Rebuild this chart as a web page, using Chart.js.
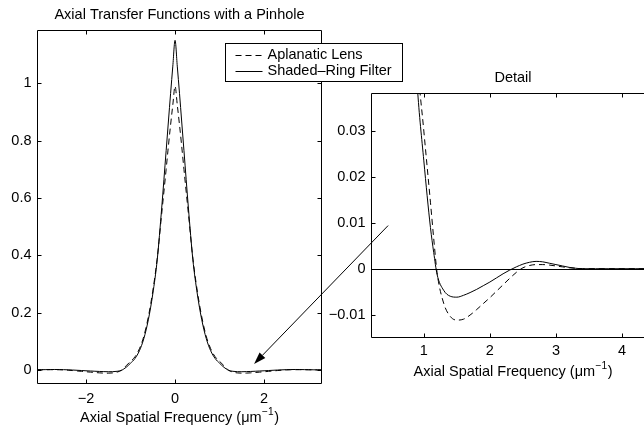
<!DOCTYPE html>
<html><head><meta charset="utf-8">
<script src="https://cdn.jsdelivr.net/npm/chart.js@4.4.0/dist/chart.umd.min.js"></script>
<style>
html,body{margin:0;padding:0;background:#fff;overflow:hidden;width:644px;height:427px;}
#wrap{position:relative;width:644px;height:427px;overflow:hidden;}
canvas{position:absolute;left:0;top:0;}
</style></head><body>
<div id="wrap"><canvas id="main" width="644" height="427"></canvas><canvas id="detail" width="700" height="427"></canvas></div>
<script>
// ---- data ----
const freq = [
 -3.1,-3.0,-2.9,-2.8,-2.7,-2.6,-2.5,-2.4,-2.3,-2.2,-2.1,-2.0,-1.9,-1.8,-1.7,-1.6,-1.5,-1.4,-1.3,-1.2,
 -1.15,-1.1,-1.0,-0.9,-0.8,-0.7,-0.6,-0.5,-0.4,-0.3,-0.2,-0.15,-0.1,-0.05,
 0,
 0.05,0.1,0.15,0.2,0.3,0.4,0.5,0.6,0.7,0.8,0.9,1.0,1.1,1.15,
 1.2,1.3,1.4,1.5,1.6,1.7,1.8,1.9,2.0,2.1,2.2,2.3,2.4,2.5,2.6,2.7,2.8,2.9,3.0,3.1,3.2,3.3,3.4,
 3.6,3.8,4.0,4.2,4.5
];
const aplanatic = [
 0.0004,0.0006,0.0008,0.0009,0.0009,0.0007,0.0002,-0.0008,-0.0021,-0.0035,-0.0049,-0.0063,-0.0076,-0.0089,-0.0101,-0.0110,-0.0112,-0.0104,-0.0075,-0.0008,
 0.0065,0.0145,0.0300,0.046,0.074,0.118,0.185,0.275,0.39,0.545,0.70,0.78,0.855,0.925,
 0.99,
 0.925,0.855,0.78,0.70,0.545,0.39,0.275,0.185,0.118,0.074,0.046,0.0300,0.0145,0.0065,
 -0.0008,-0.0075,-0.0104,-0.0112,-0.0110,-0.0101,-0.0089,-0.0076,-0.0063,-0.0049,-0.0035,-0.0021,-0.0008,0.0002,0.0007,0.0009,0.0009,0.0008,0.0006,0.0004,0.0002,0.0001,0,
 0,0,0,0,0
];
const shadedRing = [
 0.0006,0.0009,0.0012,0.0015,0.0016,0.0014,0.0010,0.0004,-0.0003,-0.0011,-0.0020,-0.0029,-0.0037,-0.0045,-0.0052,-0.0058,-0.0062,-0.0060,-0.0047,-0.0012,
 0.0035,0.0090,0.0235,0.040,0.067,0.110,0.175,0.265,0.385,0.565,0.765,0.865,0.965,1.06,
 1.15,
 1.06,0.965,0.865,0.765,0.565,0.385,0.265,0.175,0.110,0.067,0.040,0.0235,0.0090,0.0035,
 -0.0012,-0.0047,-0.0060,-0.0062,-0.0058,-0.0052,-0.0045,-0.0037,-0.0029,-0.0020,-0.0011,-0.0003,0.0004,0.0010,0.0014,0.0016,0.0015,0.0012,0.0009,0.0006,0.0003,0.0001,0,
 0,0,0,0,0
];
const seriesNames = ['Aplanatic Lens', 'Shaded\u2013Ring Filter'];
const mainTitle = 'Axial Transfer Functions with a Pinhole';
const detailTitle = 'Detail';
const axisLabelParts = ['Axial Spatial Frequency (\u03bcm', '\u22121', ')'];
const mainXTicks = [-2, 0, 2];
const mainXTickLabels = ['\u22122', '0', '2'];
const mainYTicks = [0, 0.2, 0.4, 0.6, 0.8, 1];
const mainYTickLabels = ['0', '0.2', '0.4', '0.6', '0.8', '1'];
const detailXTicks = [1, 2, 3, 4];
const detailXTickLabels = ['1', '2', '3', '4'];
const detailYTicks = [-0.01, 0, 0.01, 0.02, 0.03];
const detailYTickLabels = ['\u22120.01', '0', '0.01', '0.02', '0.03'];
const mainRange = {xmin: -3.1, xmax: 3.3, ymin: -0.049, ymax: 1.186};
const detailRange = {xmin: 0.2, xmax: 4.5, ymin: -0.0151, ymax: 0.0383};
const arrowTail = {x: 0.459, y: 0.0094};  // detail axes data units
const arrowHead = {x: 1.775, y: 0.021};   // main axes data units

// ---- helpers ----
const FONT = '"Liberation Sans", Arial, Helvetica, sans-serif';
const FS = 14.5;
function pts(ys){ return freq.map((x,i)=>({x:x, y:ys[i]})); }
function datasets(){
  return [
    {label: seriesNames[0], data: pts(aplanatic), borderColor:'#000', borderWidth:1, borderDash:[6,4], pointRadius:0, fill:false, cubicInterpolationMode:'monotone'},
    {label: seriesNames[1], data: pts(shadedRing), borderColor:'#000', borderWidth:1, pointRadius:0, fill:false, cubicInterpolationMode:'monotone'}
  ];
}
function scaleCfg(range, ticks, labels, axis, fitSize, pad){
  const c = {
    type:'linear', min: range[axis==='x'?'xmin':'ymin'], max: range[axis==='x'?'xmax':'ymax'],
    grid:{display:false, drawTicks:false}, border:{display:false},
    afterBuildTicks: s => { s.ticks = ticks.map(v=>({value:v})); },
    ticks:{ autoSkip:false, maxRotation:0, color:'#000', padding: pad, font:{family:FONT, size:FS},
      callback: (v)=>{ const i = ticks.findIndex(t=>Math.abs(t-v)<1e-9); return i>=0?labels[i]:''; } },
    afterFit: s => { if(axis==='x') s.height = fitSize; else s.width = fitSize; }
  };
  return c;
}
function drawFrame(chart, sides){
  const {ctx, chartArea:a, scales:{x, y}} = chart;
  const L = Math.round(a.left)+0.5, R = Math.round(a.right)-0.5, T = Math.round(a.top)+0.5, B = Math.round(a.bottom)-0.5;
  ctx.save();
  ctx.strokeStyle = '#000'; ctx.lineWidth = 1;
  ctx.beginPath();
  ctx.moveTo(L,T); ctx.lineTo(R,T); ctx.lineTo(R,B); ctx.lineTo(L,B); ctx.closePath();
  ctx.stroke();
  const tl = 4;
  ctx.beginPath();
  x.ticks.forEach(t=>{ const px = Math.round(x.getPixelForValue(t.value))+0.5;
    ctx.moveTo(px,B); ctx.lineTo(px,B-tl); ctx.moveTo(px,T); ctx.lineTo(px,T+tl); });
  y.ticks.forEach(t=>{ const py = Math.round(y.getPixelForValue(t.value))+0.5;
    ctx.moveTo(L,py); ctx.lineTo(L+tl,py); ctx.moveTo(R,py); ctx.lineTo(R-tl,py); });
  ctx.stroke();
  ctx.restore();
}
function drawTitle(chart, text){
  const {ctx, chartArea:a} = chart;
  ctx.save(); ctx.fillStyle='#000'; ctx.font = FS+'px '+FONT;
  ctx.textAlign='center'; ctx.textBaseline='middle';
  ctx.fillText(text, (a.left+a.right)/2, a.top-15);
  ctx.restore();
}
function drawXLabel(chart){
  const {ctx, chartArea:a} = chart;
  ctx.save(); ctx.fillStyle='#000';
  const big = FS+'px '+FONT, small = (FS*0.7)+'px '+FONT;
  ctx.font = big; const w0 = ctx.measureText(axisLabelParts[0]).width, w2 = ctx.measureText(axisLabelParts[2]).width;
  ctx.font = small; const w1 = ctx.measureText(axisLabelParts[1]).width;
  const total = w0+w1+w2+1;
  let x0 = (a.left+a.right)/2 - total/2;
  const yc = a.bottom + 34;
  ctx.textAlign='left'; ctx.textBaseline='middle';
  ctx.font = big; ctx.fillText(axisLabelParts[0], x0, yc);
  ctx.font = small; ctx.fillText(axisLabelParts[1], x0+w0+0.5, yc-6);
  ctx.font = big; ctx.fillText(axisLabelParts[2], x0+w0+w1+1, yc);
  ctx.restore();
}

// ---- main chart ----
const mainPlugin = {
  id:'mainDeco',
  afterDraw(chart){
    drawFrame(chart);
    drawTitle(chart, mainTitle);
    drawXLabel(chart);
    // legend box
    const {ctx, chartArea:a} = chart;
    const bx = Math.round(a.right) - 97 + 0.5, by = Math.round(a.top) + 13 + 0.5, bw = 177, bh = 38;
    ctx.save();
    ctx.fillStyle='#fff'; ctx.fillRect(bx, by, bw, bh);
    ctx.strokeStyle='#000'; ctx.lineWidth=1; ctx.strokeRect(bx, by, bw, bh);
    const rows = [by+11, by+27.5];
    ctx.beginPath(); ctx.setLineDash([6,4]); ctx.moveTo(bx+10, Math.round(rows[0])+0.5); ctx.lineTo(bx+37, Math.round(rows[0])+0.5); ctx.stroke();
    ctx.beginPath(); ctx.setLineDash([]); ctx.moveTo(bx+10, Math.round(rows[1])+0.5); ctx.lineTo(bx+37, Math.round(rows[1])+0.5); ctx.stroke();
    ctx.fillStyle='#000'; ctx.font = FS+'px '+FONT; ctx.textAlign='left'; ctx.textBaseline='middle';
    ctx.fillText(seriesNames[0], bx+42, rows[0]);
    ctx.fillText(seriesNames[1], bx+42, rows[1]);
    ctx.restore();
  }
};
const mainChart = new Chart(document.getElementById('main'), {
  type:'line',
  data:{ datasets: datasets() },
  options:{
    responsive:false, animation:false, devicePixelRatio:1,
    layout:{ padding:{ left:0, right:322, top:30, bottom:0 } },
    plugins:{ legend:{display:false}, title:{display:false}, tooltip:{enabled:false} },
    events: [],
    scales:{
      x: scaleCfg(mainRange, mainXTicks, mainXTickLabels, 'x', 43, 6),
      y: scaleCfg(mainRange, mainYTicks, mainYTickLabels, 'y', 37, 5.5)
    }
  },
  plugins:[mainPlugin]
});

// ---- detail chart ----
const detailPlugin = {
  id:'detailDeco',
  beforeDatasetsDraw(chart){
    const {ctx, chartArea:a, scales:{y}} = chart;
    const py = Math.round(y.getPixelForValue(0))+0.5;
    ctx.save(); ctx.strokeStyle='#000'; ctx.lineWidth=1;
    ctx.beginPath(); ctx.moveTo(a.left, py); ctx.lineTo(a.right, py); ctx.stroke();
    ctx.restore();
  },
  afterDraw(chart){
    drawFrame(chart);
    drawTitle(chart, detailTitle);
    drawXLabel(chart);
    // arrow from detail axes to main axes
    const {ctx} = chart;
    const tx = chart.scales.x.getPixelForValue(arrowTail.x), ty = chart.scales.y.getPixelForValue(arrowTail.y);
    const hx = mainChart.scales.x.getPixelForValue(arrowHead.x), hy = mainChart.scales.y.getPixelForValue(arrowHead.y);
    const ang = Math.atan2(hy-ty, hx-tx);
    const len = 12, hw = 4;
    const baseX = hx - len*Math.cos(ang), baseY = hy - len*Math.sin(ang);
    ctx.save(); ctx.strokeStyle='#000'; ctx.fillStyle='#000'; ctx.lineWidth=1;
    ctx.beginPath(); ctx.moveTo(tx, ty); ctx.lineTo(baseX, baseY); ctx.stroke();
    ctx.beginPath(); ctx.moveTo(hx, hy);
    ctx.lineTo(baseX + hw*Math.sin(ang), baseY - hw*Math.cos(ang));
    ctx.lineTo(baseX - hw*Math.sin(ang), baseY + hw*Math.cos(ang));
    ctx.closePath(); ctx.fill();
    ctx.restore();
  }
};
new Chart(document.getElementById('detail'), {
  type:'line',
  data:{ datasets: datasets() },
  options:{
    responsive:false, animation:false, devicePixelRatio:1,
    layout:{ padding:{ left:311, right:45, top:93, bottom:39 } },
    plugins:{ legend:{display:false}, title:{display:false}, tooltip:{enabled:false} },
    events: [],
    scales:{
      x: scaleCfg(detailRange, detailXTicks, detailXTickLabels, 'x', 50, 4.5),
      y: scaleCfg(detailRange, detailYTicks, detailYTickLabels, 'y', 60, 5.5)
    }
  },
  plugins:[detailPlugin]
});
</script>
</body></html>
